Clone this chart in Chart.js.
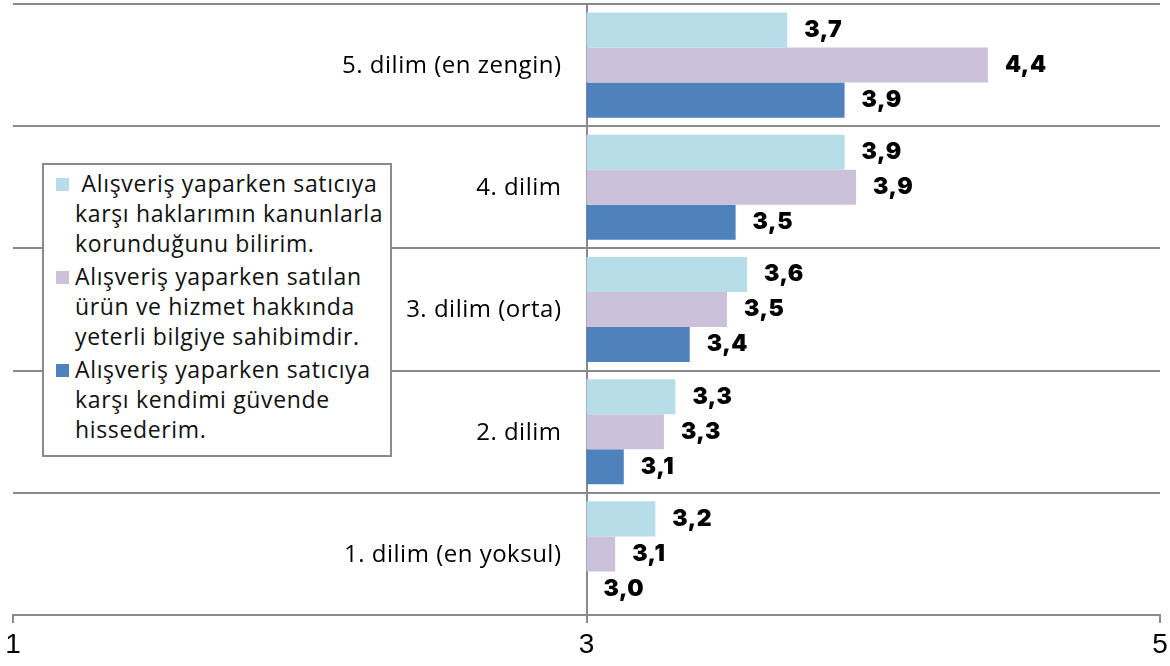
<!DOCTYPE html>
<html lang="tr">
<head>
<meta charset="UTF-8">
<title>Dilimlere göre tüketici algısı</title>
<script src="https://cdn.jsdelivr.net/npm/chart.js"></script>
<style>
  html, body { margin: 0; padding: 0; background: #fff; }
  #wrap { position: relative; width: 1170px; height: 666px; }
  #legend {
    position: absolute; left: 42px; top: 163px; width: 346px; height: 290px;
    border: 2px solid #8a8a8a; background: #fff;
    font-family: "Open Sans", sans-serif; font-size: 23px; line-height: 30px;
    letter-spacing: 0.65px; color: #111; white-space: pre;
  }
  .item { position: relative; padding-left: 31px; margin-top: 3px; }
  .item + .item { margin-top: 3px; }
  .sw { position: absolute; left: 12px; top: 10px; width: 13px; height: 13px; }
</style>
</head>
<body>
<div id="wrap">
  <canvas id="chart" width="1170" height="666"></canvas>
  <div id="legend"></div>
</div>
<script>
// category bands, top to bottom
const categories = ['5. dilim (en zengin)', '4. dilim', '3. dilim (orta)', '2. dilim', '1. dilim (en yoksul)'];

// series values (scale 1-5, bars start from 3)
const haklarValues = [3.70, 3.90, 3.56, 3.31, 3.24];
const bilgiValues  = [4.40, 3.94, 3.49, 3.27, 3.10];
const guvenValues  = [3.90, 3.52, 3.36, 3.13, 3.00];

// legend text, line by line as in the original box
const seriesNames = [
  [' Alışveriş yaparken satıcıya', 'karşı haklarımın kanunlarla', 'korunduğunu bilirim.'],
  ['Alışveriş yaparken satılan', 'ürün ve hizmet hakkında', 'yeterli bilgiye sahibimdir.'],
  ['Alışveriş yaparken satıcıya', 'karşı kendimi güvende', 'hissederim.']
];
const seriesColors = ['#b7dee8', '#ccc1da', '#4f81bd'];

const xTicks = [1, 3, 5];
const baseValue = 3;

const toBar = vals => vals.map(v => [baseValue, v]);

// category names left of the axis at 3, value labels at bar ends
const labelsPlugin = {
  id: 'labelsPlugin',
  afterDatasetsDraw(chart) {
    const ctx = chart.ctx;
    const yScale = chart.scales.y;
    const axisX = chart.scales.x.getPixelForValue(baseValue);
    ctx.save();
    ctx.fillStyle = '#000';
    ctx.textBaseline = 'middle';

    ctx.font = '24px "Open Sans", sans-serif';
    ctx.letterSpacing = '0.5px';
    ctx.textAlign = 'right';
    categories.forEach((c, i) => {
      ctx.fillText(c, axisX - 25, yScale.getPixelForValue(i) + 1);
    });

    ctx.font = '900 23px "Inter", "DejaVu Sans", sans-serif';
    ctx.letterSpacing = '0.5px';
    ctx.textAlign = 'left';
    chart.data.datasets.forEach((ds, i) => {
      const meta = chart.getDatasetMeta(i);
      meta.data.forEach((bar, j) => {
        const v = ds.values[j];
        ctx.fillText(v.toFixed(1).replace('.', ','), bar.x + 17, bar.y);
      });
    });
    ctx.restore();
  }
};

new Chart(document.getElementById('chart'), {
  type: 'bar',
  data: {
    labels: categories,
    datasets: [
      { label: seriesNames[0].join(' '), data: toBar(haklarValues), values: haklarValues, backgroundColor: seriesColors[0] },
      { label: seriesNames[1].join(' '), data: toBar(bilgiValues), values: bilgiValues, backgroundColor: seriesColors[1] },
      { label: seriesNames[2].join(' '), data: toBar(guvenValues), values: guvenValues, backgroundColor: seriesColors[2] }
    ]
  },
  options: {
    indexAxis: 'y',
    responsive: false,
    animation: false,
    layout: { padding: { left: 13, right: 10, top: 4, bottom: 0 } },
    datasets: { bar: { categoryPercentage: 0.86, barPercentage: 1.0 } },
    plugins: {
      legend: { display: false },
      tooltip: { enabled: false }
    },
    scales: {
      x: {
        type: 'linear',
        min: 1,
        max: 5,
        afterBuildTicks: axis => { axis.ticks = xTicks.map(v => ({ value: v })); },
        afterFit: axis => { axis.height = 51; axis.paddingLeft = 0; axis.paddingRight = 0; },
        border: { display: true, color: '#8a8a8a', width: 2 },
        grid: { drawOnChartArea: false, drawTicks: true, tickLength: 8, color: '#8a8a8a', lineWidth: 2 },
        ticks: {
          color: '#000',
          padding: 5,
          font: { family: '"Liberation Sans Narrow", "Liberation Sans", sans-serif', size: 28 }
        }
      },
      y: {
        position: { x: baseValue },
        afterFit: axis => { axis.paddingTop = 0; axis.paddingBottom = 0; },
        border: { display: true, color: '#8a8a8a', width: 2 },
        grid: { display: true, offset: true, drawTicks: false, color: '#8a8a8a', lineWidth: 2 },
        ticks: { display: false }
      }
    }
  },
  plugins: [labelsPlugin]
});

// legend built from series names and colours
const legend = document.getElementById('legend');
seriesNames.forEach((lines, i) => {
  const item = document.createElement('div');
  item.className = 'item';
  const sw = document.createElement('span');
  sw.className = 'sw';
  sw.style.background = seriesColors[i];
  item.appendChild(sw);
  item.appendChild(document.createTextNode(lines.join('\n')));
  legend.appendChild(item);
});
</script>
</body>
</html>
